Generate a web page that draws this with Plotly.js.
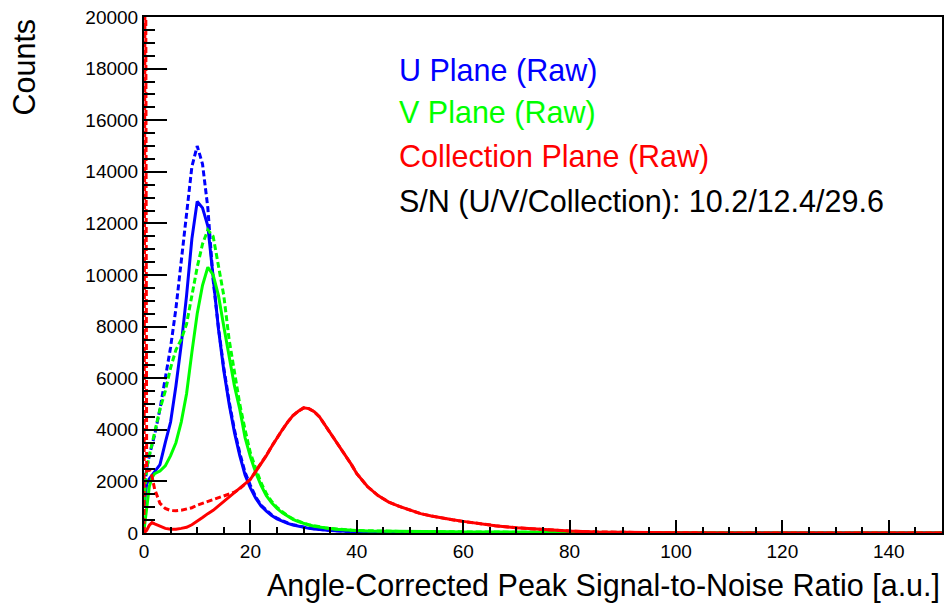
<!DOCTYPE html>
<html>
<head>
<meta charset="utf-8">
<script src="https://cdn.plot.ly/plotly-3.0.1.min.js"></script>
<style>html,body{margin:0;padding:0;background:#fff}#chart{width:947px;height:603px}</style>
</head>
<body>
<div id="chart"></div>
<script>
// Common sample grid (bin centres, a.u.)
const snr = [0, 0.25, 0.5, 1, 1.5, 2, 3, 4, 5, 6, 7, 8, 9, 10, 11, 12, 13, 14, 15, 16, 17, 18, 19, 20,
  21, 22, 23, 24, 25, 26, 27, 28, 29, 30, 31, 32, 33, 34, 35, 36, 37, 38, 39, 40,
  42, 44, 46, 48, 50, 52, 54, 56, 58, 60, 63, 66, 70, 75, 80, 85, 90, 95, 100, 110, 120, 130, 140, 150];

// U plane
const uSolid = [1000, 1500, 1900, 2100, 2250, 2350, 2650, 3500, 4300, 5700, 7300, 9200, 11400, 12850, 12600, 11900, 9900, 7900, 6300, 5000, 3900, 3000, 2250, 1750,
  1350, 1050, 850, 680, 550, 450, 370, 310, 260, 210, 180, 155, 130, 112, 97, 84, 72, 62, 53, 45,
  34, 26, 20, 15, 12, 9, 7, 5, 4, 3, 2, 2, 1, 1, 0, 0, 0, 0, 0, 0, 0, 0, 0, 0];
const uDashed = [1500, 2100, 2500, 3000, 3400, 3800, 4800, 6000, 7200, 8700, 10500, 12500, 14200, 15000, 14300, 12600, 9800, 7950, 6400, 5100, 4000, 3100, 2350, 1850,
  1400, 1080, 870, 700, 575, 470, 390, 325, 275, 225, 190, 162, 137, 117, 100, 87, 74, 64, 55, 47,
  36, 27, 21, 16, 12, 9, 7, 5, 4, 3, 2, 2, 1, 1, 0, 0, 0, 0, 0, 0, 0, 0, 0, 0];

// V plane
const vSolid = [100, 500, 900, 1800, 2150, 2300, 2400, 2600, 3000, 3500, 4300, 5400, 7000, 8500, 9600, 10300, 10000, 9200, 8000, 6800, 5700, 4800, 3700, 2950,
  2350, 1850, 1450, 1170, 950, 780, 640, 530, 440, 370, 310, 262, 225, 195, 170, 148, 130, 115, 103, 94,
  80, 72, 65, 60, 55, 52, 50, 48, 45, 43, 40, 37, 32, 25, 18, 10, 6, 4, 2, 1, 0, 0, 0, 0];
const vDashed = [1200, 2000, 2500, 3000, 3500, 3900, 4800, 5500, 6400, 7100, 7500, 8100, 9200, 10300, 11200, 11750, 11500, 10300, 9200, 7500, 6200, 5000, 4000, 3100,
  2500, 1950, 1530, 1220, 990, 810, 665, 550, 460, 385, 322, 272, 233, 202, 176, 153, 135, 119, 107, 97,
  83, 74, 67, 62, 57, 53, 51, 49, 46, 44, 41, 38, 33, 26, 19, 11, 6, 4, 2, 1, 0, 0, 0, 0];

// Collection plane
const cSolid = [0, 50, 100, 300, 400, 350, 250, 180, 150, 150, 180, 220, 320, 450, 600, 750, 880, 1050, 1220, 1380, 1550, 1720, 1900, 2080,
  2380, 2680, 3000, 3350, 3700, 4000, 4300, 4550, 4720, 4850, 4820, 4700, 4500, 4200, 3900, 3600, 3250, 2950, 2650, 2300,
  1800, 1450, 1200, 1030, 880, 750, 660, 580, 510, 450, 360, 285, 200, 130, 75, 40, 22, 12, 7, 3, 1, 0, 0, 0];
const cDashed = [0, 30000, 2400, 2450, 2200, 1700, 1150, 950, 870, 860, 880, 920, 980, 1080, 1150, 1220, 1280, 1350, 1420, 1480, 1580, 1720, 1900, 2080,
  2400, 2700, 3010, 3360, 3700, 4000, 4300, 4550, 4720, 4850, 4820, 4700, 4500, 4200, 3900, 3600, 3250, 2950, 2650, 2300,
  1800, 1450, 1200, 1030, 880, 750, 660, 580, 510, 450, 360, 285, 200, 130, 75, 40, 22, 12, 7, 3, 1, 0, 0, 0];

const legendLines = ["U Plane (Raw)", "V Plane (Raw)", "Collection Plane (Raw)", "S/N (U/V/Collection): 10.2/12.4/29.6"];
const xTitle = "Angle-Corrected Peak Signal-to-Noise Ratio [a.u.]";
const yTitle = "Counts";

const BLUE = "#0000ff", GREEN = "#00ff00", RED = "#ff0000";
const DASH = "6px,3px";
function tr(y, color, dash) {
  return {x: snr, y: y, type: "scatter", mode: "lines", hoverinfo: "skip",
    line: {color: color, width: 3, dash: dash, shape: "linear"}};
}
const data = [
  tr(uDashed, BLUE, DASH), tr(uSolid, BLUE, "solid"),
  tr(vDashed, GREEN, DASH), tr(vSolid, GREEN, "solid"),
  tr(cDashed, RED, DASH), tr(cSolid, RED, "solid")
];

const FONT = "'Liberation Sans', Arial, Helvetica, sans-serif";
const legendColors = [BLUE, GREEN, RED, "#000000"];
const legendY = [0.897, 0.814, 0.729, 0.643];
const annotations = legendLines.map((t, i) => ({
  text: t, xref: "paper", yref: "paper", x: 0.317, y: legendY[i],
  xanchor: "left", yanchor: "middle", showarrow: false,
  font: {family: FONT, size: 30.5, color: legendColors[i]}
}));
annotations.push({text: xTitle, xref: "paper", yref: "paper", x: 1.0, y: -0.101,
  xanchor: "right", yanchor: "middle", showarrow: false,
  font: {family: FONT, size: 30.5, color: "#000"}});
annotations.push({text: yTitle, xref: "paper", yref: "paper", x: -0.1516, y: 1.0,
  xanchor: "center", yanchor: "top", textangle: -90, showarrow: false,
  font: {family: FONT, size: 30.5, color: "#000"}});

const layout = {
  width: 947, height: 603,
  margin: {l: 144, r: 5, t: 17, b: 70, pad: 0},
  paper_bgcolor: "#fff", plot_bgcolor: "#fff",
  showlegend: false,
  font: {family: FONT, size: 19, color: "#000"},
  xaxis: {
    range: [0, 150], tick0: 0, dtick: 20, ticks: "inside", ticklen: 13, tickwidth: 2, tickcolor: "#000",
    minor: {dtick: 5, ticks: "inside", ticklen: 6, tickwidth: 2, tickcolor: "#000"},
    showline: true, linecolor: "#000", linewidth: 2, mirror: true,
    showgrid: false, zeroline: false, fixedrange: true,
    tickfont: {family: FONT, size: 19, color: "#000"}
  },
  yaxis: {
    range: [0, 20000], tick0: 0, dtick: 2000, ticks: "inside", ticklen: 23, tickwidth: 2, tickcolor: "#000",
    minor: {dtick: 500, ticks: "inside", ticklen: 11, tickwidth: 2, tickcolor: "#000"},
    showline: true, linecolor: "#000", linewidth: 2, mirror: true,
    showgrid: false, zeroline: false, fixedrange: true, tickformat: "d",
    tickfont: {family: FONT, size: 19, color: "#000"}
  },
  annotations: annotations
};

Plotly.newPlot("chart", data, layout, {displayModeBar: false, staticPlot: true});
</script>
</body>
</html>
